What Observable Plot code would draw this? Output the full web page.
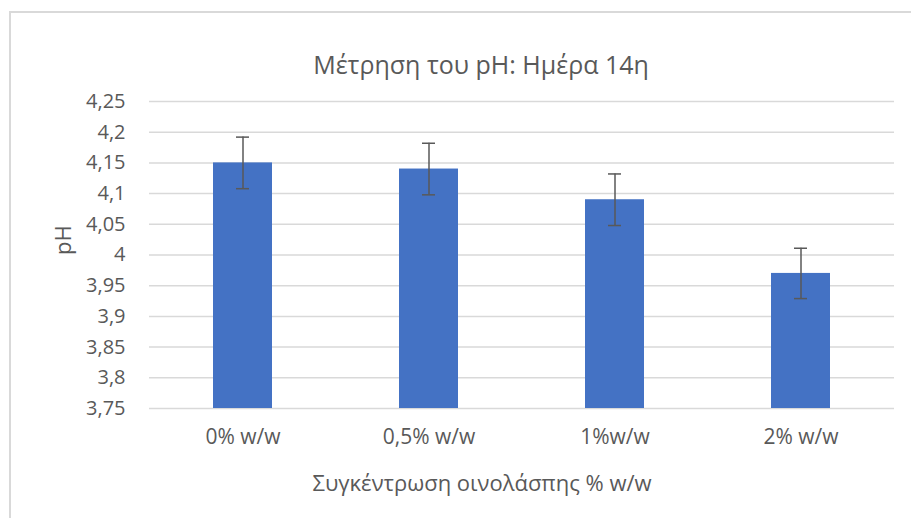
<!DOCTYPE html>
<html>
<head>
<meta charset="utf-8">
<script src="https://cdn.jsdelivr.net/npm/d3@7"></script>
<script src="https://cdn.jsdelivr.net/npm/@observablehq/plot@0.6"></script>
<style>
  html, body { margin: 0; padding: 0; background: #fff; }
  #wrap { position: relative; width: 911px; height: 518px; overflow: hidden; background: #fff; }
  #frame { position: absolute; left: 9px; top: 11px; width: 1000px; height: 600px; border: 2px solid #d9d9d9; box-sizing: border-box; }
  #chart { position: absolute; left: 0; top: 0; }
</style>
</head>
<body>
<div id="wrap"><div id="frame"></div><div id="chart"></div></div>
<script>
const categories = ["0% w/w", "0,5% w/w", "1%w/w", "2% w/w"];
const phValues = [4.15, 4.14, 4.09, 3.97];
const phErrors = [0.042, 0.042, 0.042, 0.041];
const yDomain = [3.75, 4.25];
const yTicks = [3.75, 3.8, 3.85, 3.9, 3.95, 4, 4.05, 4.1, 4.15, 4.2, 4.25];
const titleText = "Μέτρηση του pH: Ημέρα 14η";
const xTitle = "Συγκέντρωση οινολάσπης % w/w";
const yTitle = "pH";

const data = categories.map((c, i) => ({
  cat: c, value: phValues[i], lo: phValues[i] - phErrors[i], hi: phValues[i] + phErrors[i], base: yDomain[0]
}));

const font = "'Open Sans', 'Noto Sans', sans-serif";
const txt = "#595959";
const fmt = d => String(+d.toFixed(2)).replace(".", ",");

const chart = Plot.plot({
  width: 911,
  height: 518,
  marginTop: 101,
  marginBottom: 110,
  marginLeft: 149,
  marginRight: 17,
  style: { fontFamily: font, color: txt, background: "transparent" },
  x: { domain: categories, paddingInner: 0.684, paddingOuter: 0.342 },
  y: { domain: yDomain },
  marks: [
    Plot.ruleY(yTicks, { stroke: "#d9d9d9", strokeWidth: 1.5 }),
    Plot.barY(data, { x: "cat", y1: "base", y2: "value", fill: "#4472c4" }),
    Plot.ruleX(data, { x: "cat", y1: "lo", y2: "hi", stroke: "#595959", strokeWidth: 1.5 }),
    Plot.tickY(data, { x: "cat", y: "lo", stroke: "#595959", strokeWidth: 1.5, insetLeft: 23, insetRight: 23 }),
    Plot.tickY(data, { x: "cat", y: "hi", stroke: "#595959", strokeWidth: 1.5, insetLeft: 23, insetRight: 23 }),
    Plot.axisY({ ticks: yTicks, tickFormat: fmt, tickSize: 0, tickPadding: 24, label: null, fontSize: 20, fill: txt }),
    Plot.axisX({ tickSize: 0, tickPadding: 21, label: null, fontSize: 21, fill: txt }),
    Plot.text([titleText], { frameAnchor: "top", dx: -41, dy: -45, fontSize: 25, fill: txt }),
    Plot.text([xTitle], { frameAnchor: "bottom", dx: -40, dy: 82, fontSize: 22, fill: txt }),
    Plot.text([yTitle], { frameAnchor: "left", dx: -86, rotate: -90, fontSize: 22, fill: txt })
  ]
});
document.getElementById("chart").appendChild(chart);
</script>
</body>
</html>
